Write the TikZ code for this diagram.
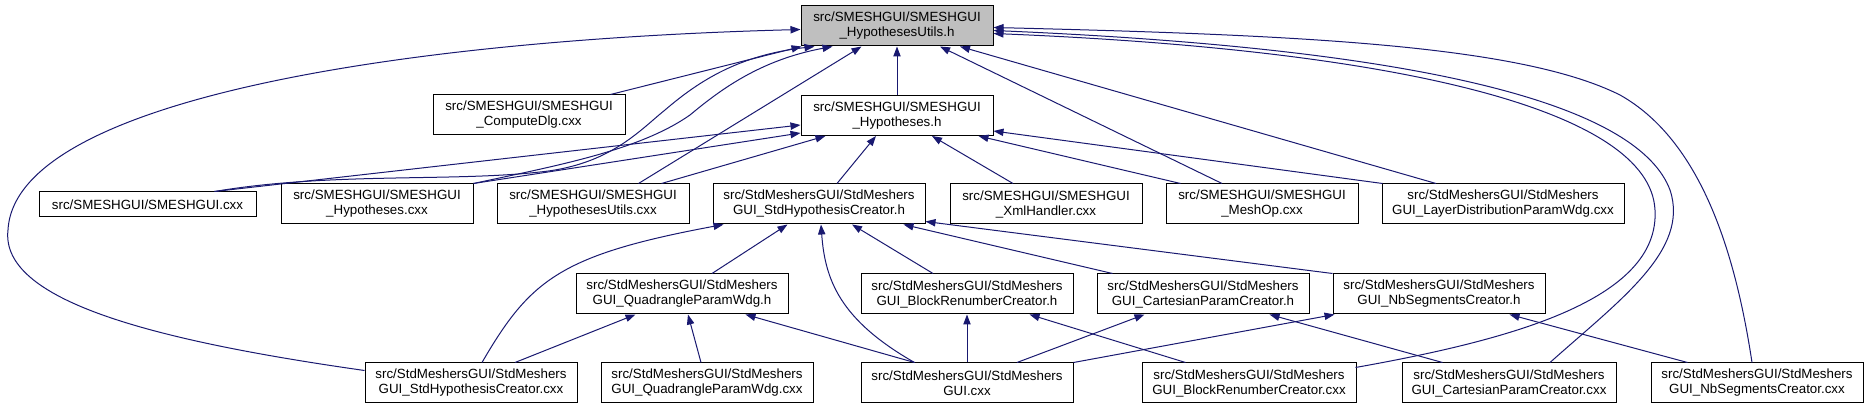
\documentclass[tikz,border=0pt]{standalone}
\usepackage{fontspec}
\setmainfont{Liberation Sans}
\usetikzlibrary{arrows.meta,calc}
\definecolor{edgec}{HTML}{191970}
\definecolor{topfill}{HTML}{BFBFBF}
\begin{document}
\begin{tikzpicture}[x=0.75pt,y=-0.75pt,
  box/.style={draw=black, line width=0.75pt, fill=white, inner sep=0pt, align=center,
    font=\fontsize{10}{11.25}\selectfont, minimum height=30pt},
  wa/.style={minimum width=144pt},
  wb/.style={minimum width=159pt},
  wc/.style={minimum width=160.5pt},
  edge/.style={draw=edgec, line width=0.75pt, -{Triangle[length=7.5pt,width=5.5pt]}}]
\useasboundingbox (0,0) rectangle (1868,409);
% row 0
\node[box, wa, fill=topfill] (utilsh) at (897,26) {src/SMESHGUI/SMESHGUI\\\_HypothesesUtils.h};
% row 1
\node[box, wa] (compute) at (529,115) {src/SMESHGUI/SMESHGUI\\\_ComputeDlg.cxx};
\node[box, wa] (hyph) at (897,115.5) {src/SMESHGUI/SMESHGUI\\\_Hypotheses.h};
% row 2
\node[box, minimum width=162.75pt, minimum height=18.75pt] (smeshcxx) at (147.5,204.5) {src/SMESHGUI/SMESHGUI.cxx};
\node[box, wa] (hypcxx) at (377,204) {src/SMESHGUI/SMESHGUI\\\_Hypotheses.cxx};
\node[box, wa] (hyputilscxx) at (593,204) {src/SMESHGUI/SMESHGUI\\\_HypothesesUtils.cxx};
\node[box, wb] (stdhch) at (819,204) {src/StdMeshersGUI/StdMeshers\\GUI\_StdHypothesisCreator.h};
\node[box, wa] (xml) at (1046,204) {src/SMESHGUI/SMESHGUI\\\_XmlHandler.cxx};
\node[box, wa] (meshop) at (1262,204) {src/SMESHGUI/SMESHGUI\\\_MeshOp.cxx};
\node[box, minimum width=181.5pt] (layer) at (1503,204) {src/StdMeshersGUI/StdMeshers\\GUI\_LayerDistributionParamWdg.cxx};
% row 3
\node[box, wb] (quadh) at (682,294) {src/StdMeshersGUI/StdMeshers\\GUI\_QuadrangleParamWdg.h};
\node[box, wb] (blockh) at (967,294) {src/StdMeshersGUI/StdMeshers\\GUI\_BlockRenumberCreator.h};
\node[box, wb] (carth) at (1203,294) {src/StdMeshersGUI/StdMeshers\\GUI\_CartesianParamCreator.h};
\node[box, wb] (nbh) at (1439,294) {src/StdMeshersGUI/StdMeshers\\GUI\_NbSegmentsCreator.h};
% row 4
\node[box, wb] (stdhccxx) at (471,383) {src/StdMeshersGUI/StdMeshers\\GUI\_StdHypothesisCreator.cxx};
\node[box, wb] (quadcxx) at (707,383) {src/StdMeshersGUI/StdMeshers\\GUI\_QuadrangleParamWdg.cxx};
\node[box, wb] (guicxx) at (967,383) {src/StdMeshersGUI/StdMeshers\\GUI.cxx};
\node[box, wc] (blockcxx) at (1249,383) {src/StdMeshersGUI/StdMeshers\\GUI\_BlockRenumberCreator.cxx};
\node[box, wc] (cartcxx) at (1509,383) {src/StdMeshersGUI/StdMeshers\\GUI\_CartesianParamCreator.cxx};
\node[box, wb] (nbcxx) at (1757,383) {src/StdMeshersGUI/StdMeshers\\GUI\_NbSegmentsCreator.cxx};

% edges into utilsh
\draw[edge] ($(stdhccxx.north west)+(0,8)$) .. controls (150,340) and (0,300) .. (8,230)
  .. controls (15,100) and (400,40) .. ($(utilsh.north west)+(0,24)$);
\draw[edge] ($(compute.north east)+(-15,0)$) -- ($(utilsh.south west)+(1,0)$);
\draw[edge] ($(smeshcxx.north east)+(-42,0)$) .. controls (330,172) and (450,182) .. (540,172)
  .. controls (610,165) and (640,130) .. (665,110) .. controls (700,80) and (740,55) .. ($(utilsh.south west)+(14,0)$);
\draw[edge] (hypcxx.north east) .. controls (560,165) and (640,150) .. (690,115)
  .. controls (720,90) and (760,60) .. ($(utilsh.south west)+(32,0)$);
\draw[edge] ($(hyputilscxx.north east)+(-51,0)$) -- ($(utilsh.south west)+(61,0)$);
\draw[edge] (hyph) -- (utilsh);
\draw[edge] ($(meshop.north)+(-40,0)$) -- ($(utilsh.south)+(43,0)$);
\draw[edge] ($(layer.north)+(-67,0)$) -- ($(utilsh.south)+(63,0)$);
\draw[edge] ($(blockcxx.north east)+(-1,5)$) .. controls (1510,340) and (1660,300) .. (1655,210)
  .. controls (1650,110) and (1400,50) .. ($(utilsh.north east)+(0,28)$);
\draw[edge] ($(cartcxx.north)+(41,0)$) .. controls (1620,300) and (1690,250) .. (1670,190)
  .. controls (1640,110) and (1450,50) .. ($(utilsh.north east)+(0,25)$);
\draw[edge] ($(nbcxx.north)+(-5,0)$) .. controls (1735,250) and (1700,140) .. (1620,95)
  .. controls (1520,45) and (1300,35) .. ($(utilsh.north east)+(0,22)$);

% edges into hyph
\draw[edge] ($(smeshcxx.north east)+(-42,0)$) -- ($(hyph.south west)+(0,-11)$);
\draw[edge] (hypcxx.north east) -- ($(hyph.south west)+(0,-3)$);
\draw[edge] ($(hyputilscxx.north east)+(-28,0)$) -- ($(hyph.south west)+(25,0)$);
\draw[edge] ($(stdhch.north)+(18,0)$) -- ($(hyph.south)+(-21,0)$);
\draw[edge] ($(xml.north)+(-33,0)$) -- ($(hyph.south)+(35,0)$);
\draw[edge] ($(meshop.north west)+(15,0)$) -- ($(hyph.south east)+(-15,0)$);
\draw[edge] ($(layer.north west)+(1,0)$) -- ($(hyph.south east)+(0,-5)$);

% edges into stdhch
\draw[edge] ($(stdhccxx.north)+(11,0)$) .. controls (530,280) and (560,255) .. ($(stdhch.south west)+(11,0)$);
\draw[edge] ($(quadh.north)+(30,0)$) -- ($(stdhch.south west)+(75,0)$);
\draw[edge] ($(guicxx.north west)+(54,0)$) .. controls (840,320) and (825,280) .. ($(stdhch.south)+(2,0)$);
\draw[edge] ($(blockh.north)+(-34,0)$) -- ($(stdhch.south)+(33,0)$);
\draw[edge] ($(carth.north west)+(16,0)$) -- ($(stdhch.south east)+(-22,0)$);
\draw[edge] (nbh.north west) -- ($(stdhch.south east)+(0,-3)$);

% edges into quadh
\draw[edge] ($(stdhccxx.north)+(44,0)$) -- ($(quadh.south west)+(60,0)$);
\draw[edge] ($(quadcxx.north)+(-6,0)$) -- ($(quadh.south)+(6,0)$);
\draw[edge] ($(guicxx.north west)+(54,0)$) -- ($(quadh.south east)+(-43,0)$);

% edges into blockh
\draw[edge] (guicxx) -- (blockh);
\draw[edge] ($(blockcxx.north west)+(44,0)$) -- ($(blockh.south east)+(-44,0)$);

% edges into carth
\draw[edge] ($(guicxx.north)+(50,0)$) -- ($(carth.south west)+(48,0)$);
\draw[edge] ($(cartcxx.north west)+(41,0)$) -- ($(carth.south east)+(-40,0)$);

% edges into nbh
\draw[edge] (guicxx.north east) -- ($(nbh.south west)+(2,0)$);
\draw[edge] ($(nbcxx.north west)+(37,0)$) -- ($(nbh.south east)+(-36,0)$);
\end{tikzpicture}
\end{document}
